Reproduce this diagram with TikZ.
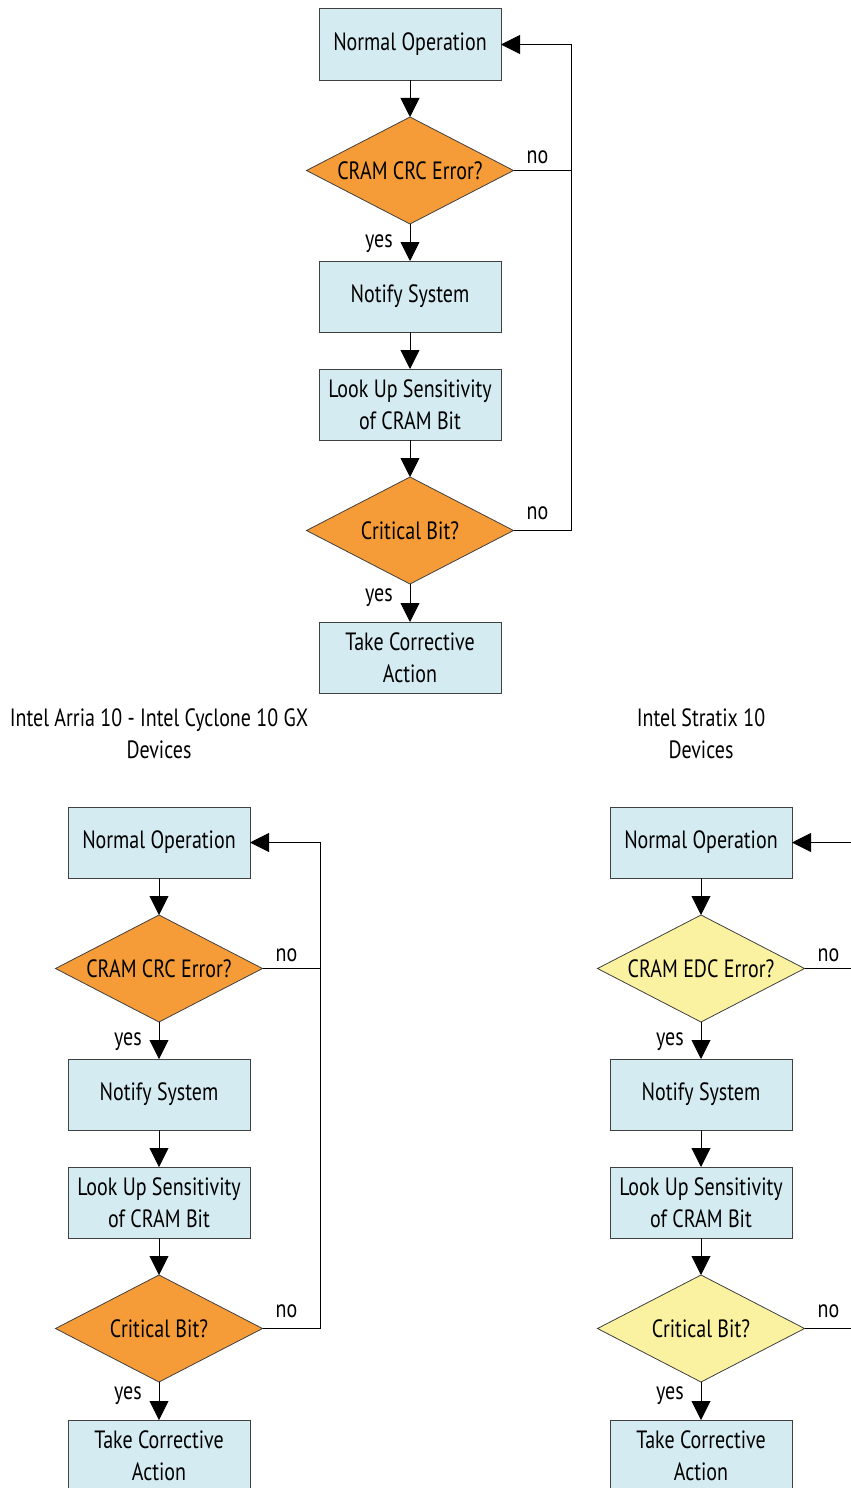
\documentclass[tikz,border=0pt]{standalone}
\usepackage{fontspec}
\setmainfont{PT Sans}[FakeStretch=0.8]
\usetikzlibrary{shapes.geometric, arrows.meta, positioning}
\definecolor{boxblue}{RGB}{212,235,242}
\definecolor{critorange}{RGB}{245,155,56}
\definecolor{edcyellow}{RGB}{250,242,160}
\definecolor{edgegray}{RGB}{64,64,64}

\tikzset{
  procbox/.style={draw=edgegray, line width=1pt, fill=boxblue, minimum width=182pt,
    minimum height=71pt, inner sep=0pt, outer sep=0pt, align=center},
  decision/.style={diamond, draw=edgegray, line width=0.8pt, minimum width=207pt,
    minimum height=107pt, inner sep=0pt, outer sep=0pt},
  flow/.style={line width=0.9pt, -{Triangle[width=19pt,length=19pt]}},
  loopline/.style={line width=0.9pt},
  lbl/.style={inner sep=0pt}
}

\begin{document}
\begin{tikzpicture}[x=1pt, y=-1pt, node distance=37pt, font=\fontsize{25}{32}\selectfont]
\useasboundingbox (0,0) rectangle (851,1488);
\clip (0,0) rectangle (851,1488);

% one flow per device family
\foreach \ch/\cx/\cy/\qfill/\qtext in {top/410/44.5/critorange/CRAM CRC Error?,
    arria/159/842.5/critorange/CRAM CRC Error?,
    stratix/701/842.5/edcyellow/CRAM EDC Error?} {
  \node[procbox] (\ch-normal) at (\cx,\cy) {Normal Operation};
  \node[decision, fill=\qfill, below=of \ch-normal] (\ch-crc) {\makebox[0pt]{\qtext}};
  \node[procbox, below=of \ch-crc] (\ch-notify) {Notify System};
  \node[procbox, below=of \ch-notify] (\ch-lookup) {Look Up Sensitivity\\of CRAM Bit};
  \node[decision, fill=\qfill, below=of \ch-lookup] (\ch-crit) {\makebox[0pt]{Critical Bit?}};
  \node[procbox, below=38pt of \ch-crit] (\ch-action) {Take Corrective\\Action};

  % labels
  \node[lbl, above right=7pt and 13pt of \ch-crc.east] (\ch-crcno) {no};
  \node[lbl, below left=10pt and 17pt of \ch-crc.south] (\ch-crcyes) {yes};
  \node[lbl, above right=11pt and 13pt of \ch-crit.east] (\ch-critno) {no};
  \node[lbl, below left=4pt and 17pt of \ch-crit.south] (\ch-crityes) {yes};

  % connections
  \draw[flow] (\ch-normal) -- (\ch-crc);
  \draw[flow] (\ch-crc) -- (\ch-notify);
  \draw[flow] (\ch-notify) -- (\ch-lookup);
  \draw[flow] (\ch-lookup) -- (\ch-crit);
  \draw[flow] (\ch-crit) -- (\ch-action);

  % back to normal operation
  \coordinate[right=58pt of \ch-crc.east] (\ch-loop);
  \draw[loopline] (\ch-crc.east) -- (\ch-loop);
  \draw[flow] (\ch-crit.east) -| (\ch-loop) |- (\ch-normal.east);
}

\node[lbl, align=center, above=48pt of arria-normal] (arria-title)
  {Intel Arria 10 - Intel Cyclone 10 GX\\Devices};
\node[lbl, align=center, above=48pt of stratix-normal] (stratix-title)
  {Intel Stratix 10\\Devices};
\end{tikzpicture}
\end{document}
